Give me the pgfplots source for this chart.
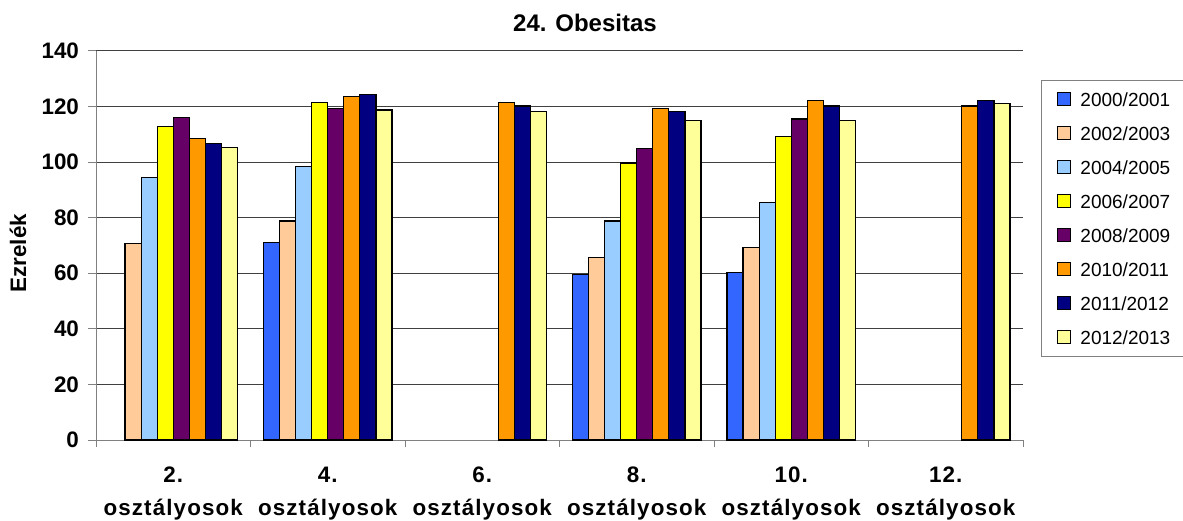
\documentclass[border=0pt]{standalone}
\usepackage{fontspec}
\setmainfont{Liberation Sans}
\usepackage{pgfplots}
\pgfplotsset{compat=1.18}
\definecolor{c1}{HTML}{3366FF}
\definecolor{c2}{HTML}{FFCC99}
\definecolor{c3}{HTML}{99CCFF}
\definecolor{c4}{HTML}{FFFF00}
\definecolor{c5}{HTML}{660066}
\definecolor{c6}{HTML}{FF9900}
\definecolor{c7}{HTML}{000080}
\definecolor{c8}{HTML}{FFFF99}
\begin{document}
\begin{tikzpicture}
  \useasboundingbox (0,0) rectangle (591.5pt,260pt);
  \begin{axis}[
    at={(48pt,40pt)}, anchor=south west,
    scale only axis,
    width=463.5pt, height=194.5pt,
    ybar=0pt, bar width=0.104,
    xmin=-0.5, xmax=5.5,
    ymin=0, ymax=140,
    ytick={0,20,...,140},
    xtick={0,...,5},
    xticklabels={{2.\\osztályosok},{4.\\osztályosok},{6.\\osztályosok},
                 {8.\\osztályosok},{10.\\osztályosok},{12.\\osztályosok}},
    x tick style={draw=none},
    extra x ticks={-0.5,0.5,...,5.5},
    extra x tick labels={},
    extra x tick style={x tick style={draw=gray, line width=0.5pt},
                        major tick length=3.5pt, tick align=outside, grid=none},
    axis x line*=bottom, axis y line*=left,
    axis line style={gray, line width=0.5pt},
    y tick style={gray, line width=0.5pt},
    tick align=outside, major tick length=4pt,
    ymajorgrids, grid style={black!75, line width=0.5pt},
    /pgf/number format/assume math mode=true,
    ticklabel style={font=\fontsize{11.2}{16}\selectfont\bfseries},
    xticklabel style={align=center, yshift=-6pt,
                      font=\fontsize{11.2}{16.5}\selectfont\bfseries\addfontfeature{LetterSpace=5}},
    yticklabel style={xshift=-1pt},
    ylabel={Ezrelék},
    ylabel style={at={(axis description cs:-0.084,0.48)}, anchor=center,
                  font=\fontsize{11.2}{13}\selectfont\bfseries},
    title={24. Obesitas},
    title style={at={(axis description cs:0.5275,1)}, anchor=south,
                 font=\fontsize{12}{14}\selectfont\bfseries},
    every axis plot/.append style={draw=black, line width=0.6pt},
    legend image code/.code={\draw[#1, line width=0.5pt] (0pt,-3pt) rectangle (6.5pt,3.5pt);},
    legend cell align=left,
    legend style={at={(axis description cs:1.0194,0.9254)}, anchor=north west,
                  draw=gray, line width=0.5pt,
                  font=\fontsize{9.5}{11}\selectfont,
                  inner xsep=8pt, inner ysep=5pt, row sep=8pt,
                  /tikz/every odd column/.append style={column sep=3.5pt},
                  nodes={inner sep=1pt, text height=7pt, text depth=0pt}},
  ]
    \addplot[fill=c1] coordinates {(1,71.2) (3,59.7) (4,60.4)};
    \addlegendentry{2000/2001}
    \addplot[fill=c2] coordinates {(0,70.6) (1,78.8) (3,65.8) (4,69.2)};
    \addlegendentry{2002/2003}
    \addplot[fill=c3] coordinates {(0,94.4) (1,98.5) (3,78.8) (4,85.5)};
    \addlegendentry{2004/2005}
    \addplot[fill=c4] coordinates {(0,112.7) (1,121.6) (3,99.7) (4,109.3)};
    \addlegendentry{2006/2007}
    \addplot[fill=c5] coordinates {(0,116.2) (1,119.4) (3,104.8) (4,115.5)};
    \addlegendentry{2008/2009}
    \addplot[fill=c6] coordinates {(0,108.6) (1,123.5) (2,121.6) (3,119.4) (4,122.2) (5,120.2)};
    \addlegendentry{2010/2011}
    \addplot[fill=c7] coordinates {(0,106.6) (1,124.4) (2,120.2) (3,118.2) (4,120.2) (5,122.2)};
    \addlegendentry{2011/2012}
    \addplot[fill=c8] coordinates {(0,105.2) (1,118.8) (2,118.2) (3,114.9) (4,114.9) (5,121.0)};
    \addlegendentry{2012/2013}
  \end{axis}
\end{tikzpicture}
\end{document}
